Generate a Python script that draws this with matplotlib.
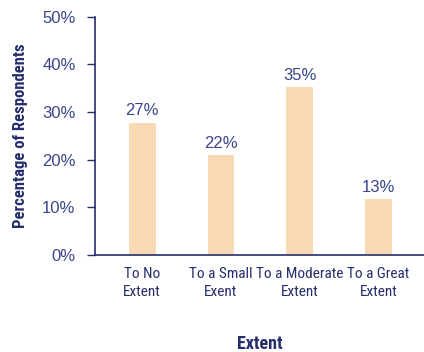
import matplotlib
matplotlib.use("Agg")
import matplotlib.pyplot as plt
from matplotlib.ticker import FuncFormatter

categories = ["To No\nExtent", "To a Small\nExent", "To a Moderate\nExtent", "To a Great\nExtent"]
heights = [27.8, 21.0, 35.2, 11.7]
value_labels = ["27%", "22%", "35%", "13%"]
yticks = [0, 10, 20, 30, 40, 50]

NAVY = "#262d6b"
TICK = "#3a4488"
BAR = "#f7d9b4"
COND = "Roboto Condensed"
PLAIN = "Liberation Sans"

fig = plt.figure(figsize=(4.24, 3.52), dpi=100, facecolor="white")
ax = fig.add_axes([0.224, 0.276, 0.776, 0.676])

x = list(range(len(categories)))
ax.bar(x, heights, width=0.34, color=BAR)
for xi, h, lab in zip(x, heights, value_labels):
    ax.text(xi, h + 0.9, lab, ha="center", va="bottom", color=TICK,
            fontsize=12, family=PLAIN)

ax.set_xlim(-0.6, 3.58)
ax.set_ylim(0, 50)
ax.set_yticks(yticks)
ax.yaxis.set_major_formatter(FuncFormatter(lambda v, p: f"{v:.0f}%"))
ax.set_xticks(x)
ax.set_xticklabels(categories, family=COND, fontsize=11, color=NAVY,
                   linespacing=1.3)
ax.tick_params(axis="x", length=0, pad=9)
ax.tick_params(axis="y", length=6, width=1, color=NAVY, pad=8,
               labelsize=12, labelcolor=TICK)
for lab in ax.get_yticklabels():
    lab.set_family(PLAIN)

for s in ("top", "right"):
    ax.spines[s].set_visible(False)
for s in ("left", "bottom"):
    ax.spines[s].set_color(NAVY)
    ax.spines[s].set_linewidth(1.2)

ax.set_ylabel("Percentage of Respondents", family=COND, fontweight="bold",
              fontsize=12, color=NAVY, labelpad=10)
ax.set_xlabel("Extent", family=COND, fontweight="bold", fontsize=13,
              color=NAVY, labelpad=26)

fig.savefig("out.png", dpi=100)
